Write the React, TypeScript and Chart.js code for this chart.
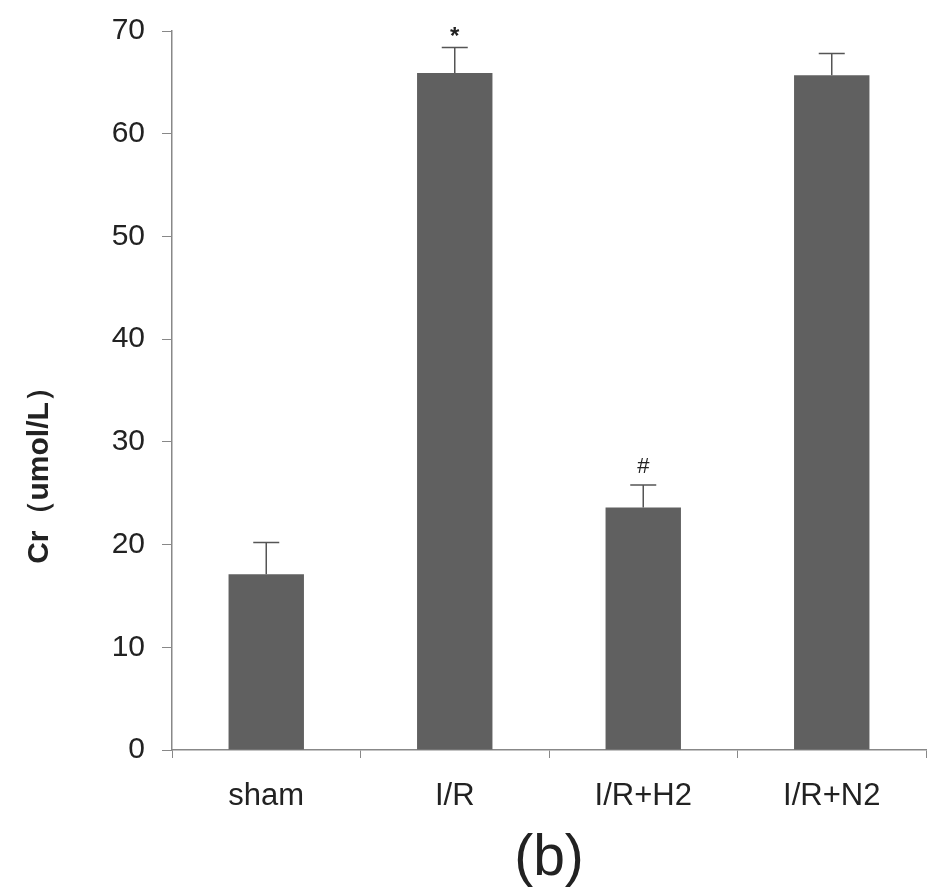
import React, { useEffect, useRef } from "react";
import { Chart, registerables } from "chart.js";

Chart.register(...registerables);

const categories = ["sham", "I/R", "I/R+H2", "I/R+N2"];
const meanValues = [17.1, 65.9, 23.6, 65.7];
const errorValues = [3.1, 2.5, 2.2, 2.1];
const markers = ["", "*", "#", ""];
const yTicks = [0, 10, 20, 30, 40, 50, 60, 70];

const FONT = "'Liberation Sans', Arial, sans-serif";

const errorBarPlugin = {
  id: "errorBars",
  afterDatasetsDraw(chart: any) {
    const { ctx, scales } = chart;
    const x = scales.x;
    const y = scales.y;
    ctx.save();
    ctx.strokeStyle = "#555555";
    ctx.lineWidth = 1.5;
    meanValues.forEach((v, i) => {
      const cx = x.getPixelForValue(i);
      const y0 = y.getPixelForValue(v);
      const y1 = y.getPixelForValue(v + errorValues[i]);
      ctx.beginPath();
      ctx.moveTo(cx, y0);
      ctx.lineTo(cx, y1);
      ctx.moveTo(cx - 13, y1);
      ctx.lineTo(cx + 13, y1);
      ctx.stroke();
      if (markers[i]) {
        ctx.fillStyle = "#222";
        ctx.textAlign = "center";
        ctx.textBaseline = "middle";
        if (markers[i] === "*") {
          ctx.font = `bold 24px ${FONT}`;
          ctx.fillText("*", cx, y1 - 10);
        } else {
          ctx.font = `22px ${FONT}`;
          ctx.fillText(markers[i], cx, y1 - 18);
        }
      }
    });
    // y-axis title
    ctx.save();
    ctx.translate(40, 468);
    ctx.rotate(-Math.PI / 2);
    ctx.fillStyle = "#222";
    ctx.font = `bold 30px ${FONT}`;
    ctx.textAlign = "center";
    ctx.textBaseline = "middle";
    ctx.fillText("Cr（umol/L）", 0, 0);
    ctx.restore();
    ctx.restore();
  },
};

export default function App() {
  const ref = useRef<HTMLCanvasElement>(null);
  useEffect(() => {
    document.body.style.margin = "0";
    const chart = new Chart(ref.current!, {
      type: "bar",
      data: {
        labels: categories,
        datasets: [
          {
            data: meanValues,
            backgroundColor: "#606060",
            borderWidth: 0,
            barPercentage: 0.4,
            categoryPercentage: 1,
          },
        ],
      },
      options: {
        responsive: false,
        animation: false,
        layout: { padding: { left: 0, right: 14, top: 31, bottom: 0 } },
        plugins: {
          legend: { display: false },
          tooltip: { enabled: false },
        },
        scales: {
          x: {
            grid: {
              display: true,
              drawOnChartArea: false,
              drawTicks: true,
              tickLength: 8,
              color: "#888888",
              offset: true,
            },
            border: { color: "#888888", width: 1.5 },
            ticks: {
              color: "#222",
              font: { family: FONT, size: 31 },
              padding: 20,
            },
            title: {
              display: true,
              text: "(b)",
              color: "#222",
              font: { family: FONT, size: 57 },
              padding: { top: 0, bottom: 1 },
            },
            afterFit(scale: any) {
              scale.height = 144;
              scale.paddingLeft = 0;
              scale.paddingRight = 0;
            },
          },
          y: {
            min: 0,
            max: 70,
            afterBuildTicks(scale: any) {
              scale.ticks = yTicks.map((v) => ({ value: v }));
            },
            grid: {
              display: true,
              drawOnChartArea: false,
              drawTicks: true,
              tickLength: 10,
              color: "#888888",
            },
            border: { color: "#888888", width: 1.5 },
            ticks: {
              color: "#222",
              font: { family: FONT, size: 30 },
              padding: 17,
            },
            afterFit(scale: any) {
              scale.width = 172;
              scale.paddingTop = 0;
              scale.paddingBottom = 0;
            },
          },
        },
      },
      plugins: [errorBarPlugin],
    });
    return () => chart.destroy();
  }, []);
  return (
    <div style={{ width: 940, height: 894 }}>
      <canvas ref={ref} width={940} height={894} />
    </div>
  );
}
